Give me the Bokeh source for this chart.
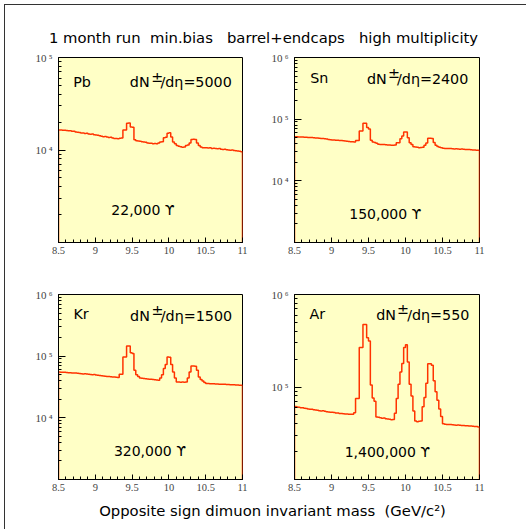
from bokeh.plotting import figure
from bokeh.layouts import column, row
from bokeh.models import Range1d, FixedTicker, SingleIntervalTicker, NumeralTickFormatter
from bokeh.core.properties import value
from bokeh.embed import file_html
from bokeh.resources import INLINE

# ---------------- data ----------------
X_LO, X_HI = 8.5, 11.0
BIN_W = 0.025
N_BINS = 100

pb_counts = [16500, 16450, 16300, 16350, 16200, 16100, 16150, 15900, 15950, 15700, 15600, 15450,
             15300, 15250, 15100, 15150, 14900, 14800, 14850, 14600, 14500, 14400, 14250,
             14100, 13950, 14000, 13800, 13650, 13700, 13500, 13350, 13300, 13200,
             13400, 13450,
             16500, 16500, 19500, 19600, 17700, 17600, 12900,
             12600, 12500, 12400, 12300, 12200, 12100,
             11900, 11800, 11850, 11700, 11750, 11650, 11900,
             12200, 12250, 13600, 13700, 15200, 15400, 13800, 12200, 11700,
             11200, 11000, 10850, 10700, 10750, 11200,
             11300, 11900, 13000, 13100, 12950, 11900, 11200,
             10800, 10600, 10550, 10600,
             10500, 10550, 10400, 10450, 10350, 10300, 10350, 10200, 10150, 10200,
             10050, 10000, 9950, 10000, 9850, 9800, 9750, 9700, 9600]

sn_counts = [52000, 51800, 51500, 51600, 51200, 50900, 51000, 50600, 50300, 50400, 49900, 49700,
             49500, 49100, 48800, 48600, 48000, 47500,
             46800, 46300, 45900, 46000, 45600, 45300, 45000, 45100, 44600, 44300, 44000, 43600,
             43200, 43000, 42800,
             45000, 45200,
             64400, 64400, 86000, 86000, 73000, 69000, 45400,
             42700, 41800, 40800,
             39300, 39000, 38700, 38900, 38400, 38000, 38200, 37800, 37700, 38000,
             41500, 41500, 48300, 53500, 62000, 62000, 50000, 41500, 39000,
             35700, 35400, 35000, 34500, 34800, 35200,
             37700, 41000, 49000, 49000, 48500, 42000, 37700,
             36000, 35000, 34400, 33800,
             33600, 33500, 33300, 33400, 33100, 32900, 33000, 32800, 32600, 32700,
             32400, 32300, 32100, 32200, 31900, 31700, 31600, 31400, 31200]

kr_counts = [55400, 55100, 54800, 54600, 54500, 54000, 53700, 53400, 53200, 53300, 52700, 52300,
             52000, 51600, 51700, 51200, 50800, 50500, 50100, 50200, 49600, 49200, 48800, 48300,
             47800, 47400, 47000, 46900, 46500, 46100, 45800, 45400, 45200,
             50800, 50800,
             97000, 97000, 146000, 146000, 114000, 110000,
             59000, 50000, 47000,
             44300, 43800, 43500, 43000, 42700, 42400, 42100, 41800, 41300, 41000, 40700,
             44300, 50000, 63000, 73000, 97000, 96000, 73000, 55400, 44300,
             38100, 38000, 37800, 38200, 37900, 38000,
             44300, 55400, 69000, 69500, 68500,
             59000, 45900, 42000, 39500, 37500, 36200,
             35900, 35800, 35600, 35700, 35400, 35300, 35200, 35000, 35100, 34900,
             34700, 34800, 34500, 34400, 34300, 34100, 34000, 33900, 33700]

ar_counts = [61400, 60800, 60300, 59600, 59800, 59000, 58400, 58000, 57500, 57600, 56900, 56400,
             56000, 55400, 55000, 55200, 54600, 54100, 53700, 53300, 53400, 52900, 52500, 52200,
             51800, 51600, 51300, 51000, 51100, 50800, 50600, 50800,
             52800,
             75000, 75000, 268000, 268000, 473000, 473000, 340000, 315000,
             105000, 76000, 70000,
             47500, 47000, 46600, 46000, 46300, 45500, 45000, 44800, 44300, 44600,
             52000, 75000, 107000, 145000, 180000, 268000, 287000, 186000, 107000, 80000, 55000,
             43000, 42200, 42500, 43000,
             61000, 77000, 110000, 178000, 178000, 172000, 117000, 89000, 72000, 58000, 48000, 40000,
             39500, 39400, 39200, 39300, 39000, 38900, 38700, 38800, 38500, 38400,
             38300, 38100, 38200, 37900, 37800, 37600, 37500, 37300, 37000]

nuclei = ["Pb", "Sn", "Kr", "Ar"]
dndeta = ["5000", "2400", "1500", "550"]
upsilon_yield = ["22,000", "150,000", "320,000", "1,400,000"]
series = [pb_counts, sn_counts, kr_counts, ar_counts]
y_decades = [(3, 5), (3, 6), (3, 6), (4, 6)]

x_tick_labels = ["8.5", "9", "9.5", "10", "10.5", "11"]

TITLE = "1 month run\u00a0\u00a0min.bias\u00a0\u00a0\u00a0barrel+endcaps\u00a0\u00a0\u00a0high multiplicity"
XLABEL = "Opposite sign dimuon invariant mass\u00a0\u00a0(GeV/c\u00b2)"

# ---------------- style ----------------
BG = "#FFFFC6"
LINE = "#FF3300"
SANS = "DejaVu Sans"
SERIF = "Liberation Serif"
SUP = {3: "\u00b3", 4: "\u2074", 5: "\u2075", 6: "\u2076"}

# per-panel layout: width, borders (left, right, top, bottom) and text placements as frame fractions
layouts = [
    dict(w=263, b=(58, 21, 9, 31), name=(0.080, 0.131), dn=(0.3875, 0.1335), pm=(0.504, 0.104), rest=0.554, cnt=(0.459, 0.827)),
    dict(w=263, b=(31, 47, 9, 31), name=(0.085, 0.109), dn=(0.392, 0.114), pm=(0.506, 0.084), rest=0.554, cnt=(0.491, 0.845)),
    dict(w=263, b=(58, 21, 21, 19), name=(0.0815, 0.108), dn=(0.389, 0.114), pm=(0.505, 0.082), rest=0.556, cnt=(0.497, 0.846)),
    dict(w=263, b=(31, 47, 21, 19), name=(0.081, 0.107), dn=(0.442, 0.110), pm=(0.554, 0.076), rest=0.609, cnt=(0.502, 0.853)),
]


def to_data(fx, fy, lo, hi):
    return X_LO + fx * (X_HI - X_LO), 10 ** (hi - fy * (hi - lo))


def make_panel(i):
    lo, hi = y_decades[i]
    L = layouts[i]
    bl, br, bt, bb = L["b"]
    p = figure(width=L["w"], height=225, x_range=Range1d(X_LO, X_HI),
               y_range=Range1d(10 ** lo, 10 ** hi), y_axis_type="log",
               output_backend="svg", toolbar_location=None,
               min_border_left=bl, min_border_right=br, min_border_top=bt, min_border_bottom=bb)
    p.background_fill_color = BG
    p.border_fill_color = None
    p.outline_line_color = "black"
    p.outline_line_width = 1
    p.grid.visible = False

    # histogram outline built from bin edges and counts
    counts = series[i]
    xs = [X_LO]
    ys = [10 ** lo]
    for k, c in enumerate(counts):
        xs += [X_LO + k * BIN_W, X_LO + (k + 1) * BIN_W]
        ys += [c, c]
    xs.append(X_LO + N_BINS * BIN_W)
    ys.append(10 ** lo)
    p.line(xs, ys, line_color=LINE, line_width=1.5)

    # x axis
    xa = p.xaxis[0]
    xa.ticker = SingleIntervalTicker(interval=0.5, num_minor_ticks=5)
    xa.formatter = NumeralTickFormatter(format="0.[0]")
    xa.major_tick_in = 5
    xa.major_tick_out = 0
    xa.minor_tick_in = 3
    xa.minor_tick_out = 0
    xa.major_label_standoff = 4
    xa.major_label_text_font = SERIF
    xa.major_label_text_font_size = "10.5px"
    xa.axis_line_color = "black"

    # y axis
    ya = p.yaxis[0]
    majors = [10 ** e for e in range(lo + 1, hi + 1)]
    minors = [m * 10 ** e for e in range(lo, hi) for m in range(2, 10)]
    ya.ticker = FixedTicker(ticks=majors, minor_ticks=minors)
    ya.major_label_overrides = {10 ** e: "10\u2009" + SUP[e] for e in range(lo + 1, hi + 1)}
    ya.major_tick_in = 7
    ya.major_tick_out = 0
    ya.minor_tick_in = 3
    ya.minor_tick_out = 0
    ya.major_label_standoff = 6
    ya.major_label_text_font = SERIF
    ya.major_label_text_font_size = "11px"
    ya.axis_line_color = "black"

    common = dict(text_font=value(SANS), text_font_size="14.3px", text_color="black",
                  text_baseline="middle")
    x, y = to_data(*L["name"], lo, hi)
    p.text(x=[x], y=[y], text=[nuclei[i]], text_align="left", **common)
    x, y = to_data(*L["dn"], lo, hi)
    p.text(x=[x], y=[y], text=["dN"], text_align="left", **common)
    x2, _ = to_data(L["rest"], 0, lo, hi)
    p.text(x=[x2], y=[y], text=["/d\u03b7=" + dndeta[i]], text_align="left", **common)
    x, y = to_data(*L["pm"], lo, hi)
    p.text(x=[x], y=[y], text=["\u00b1"], text_align="left", **common)
    x, y = to_data(*L["cnt"], lo, hi)
    p.text(x=[x], y=[y], text=[upsilon_yield[i] + " \u03d2"], text_align="center",
           **dict(common, text_font_size="14px"))
    return p


def text_strip(h, txt, cx, cy):
    f = figure(width=526, height=h, x_range=Range1d(0, 526), y_range=Range1d(0, h),
               x_axis_type=None, y_axis_type=None, output_backend="svg",
               toolbar_location=None, min_border=0)
    f.grid.visible = False
    f.outline_line_color = None
    f.background_fill_color = None
    f.border_fill_color = None
    f.text(x=[cx], y=[cy], text=[txt], text_font=value(SANS), text_font_size="14.8px",
           text_align="center", text_baseline="middle", text_color="black")
    return f


title_fig = text_strip(48, TITLE, 263, 11)
label_fig = text_strip(31, XLABEL, 272, 19)
panels = [make_panel(i) for i in range(4)]

frame_css = ("linear-gradient(#333,#333) 4px 4px / 1px calc(100% - 4px) no-repeat, "
             "linear-gradient(#333,#333) 4px 4px / calc(100% - 4px) 1px no-repeat, white")

layout = column(title_fig, row(panels[0], panels[1]), row(panels[2], panels[3]), label_fig,
                styles={"background": frame_css})

open("out.html", "w").write(file_html(layout, INLINE))
